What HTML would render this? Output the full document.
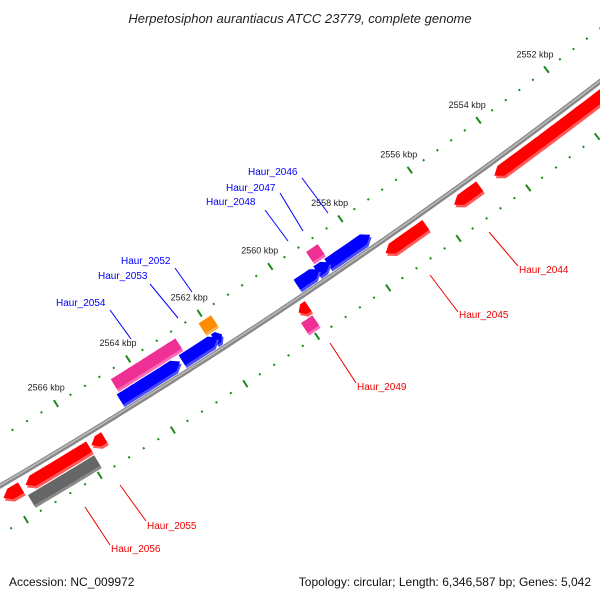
<!DOCTYPE html>
<html><head><meta charset="utf-8"><style>
body{margin:0;background:#fff}
svg{display:block;font-family:"Liberation Sans",sans-serif}
</style></head><body>
<svg id="map" width="600" height="600" viewBox="0 0 600 600">
<rect width="600" height="600" fill="#fff"/>
<text x="300" y="23" text-anchor="middle" font-size="13" font-style="italic" fill="#222">Herpetosiphon aurantiacus ATCC 23779, complete genome</text>
<g id="rings"></g>
<g id="feats"></g>
<g id="labels"></g>
<text x="9" y="586" font-size="12" fill="#111">Accession: NC_009972</text>
<text x="591" y="586" font-size="12" fill="#111" text-anchor="end">Topology: circular; Length: 6,346,587 bp; Genes: 5,042</text>
</svg>
<script>
// data (kbp)
const featStart = [2551.0, 2554.89, 2556.44, 2557.64, 2558.78, 2559.08, 2558.78, 2559.78, 2559.82, 2561.83, 2561.8, 2561.95, 2563.0, 2562.8, 2565.45, 2565.86, 2565.87, 2567.72];
const featEnd   = [2554.47, 2555.63, 2557.59, 2558.85, 2559.16, 2559.72, 2559.11, 2560.05, 2560.14, 2562.05, 2562.15, 2562.95, 2564.67, 2564.6, 2565.8, 2567.6, 2567.67, 2568.2];
const featStrand= [-1,-1,-1, 1,1,1, 1, -1,-1, 1, 1, 1,1, 1, -1,-1,-1,-1];
const featLane  = [1,1,1, 1,1,1, 2, 1,2, 1, 2, 1,1, 2, 1,1,2,1];
const featColor = ["#ff0000","#ff0000","#ff0000","#0000ff","#0000ff","#0000ff","#ee2f93","#ff0000","#ee2f93","#0000ff","#ff8c00","#0000ff","#0000ff","#ee2f93","#ff0000","#ff0000","#666666","#ff0000"];
const featArrow = [1,1,1,1,1,1,0,1,0,1,0,1,1,0,1,1,0,1];
const tickLabels = [2552,2554,2556,2558,2560,2562,2564,2566];
const labelNames = ["Haur_2044","Haur_2045","Haur_2046","Haur_2047","Haur_2048","Haur_2049","Haur_2052","Haur_2053","Haur_2054","Haur_2055","Haur_2056"];

const NS="http://www.w3.org/2000/svg";
const CX=-2992, CY=-4599, RB=5900, TH0=56.1, P0=2559.86, K=0.4147;
function ang(p){return (TH0+(p-P0)*K)*Math.PI/180;}
function pt(p,r){const a=ang(p);return [CX+r*Math.cos(a), CY+r*Math.sin(a)];}
function mk(tag,attrs,parent){const e=document.createElementNS(NS,tag);for(const k in attrs)e.setAttribute(k,attrs[k]);parent.appendChild(e);return e;}
const rings=document.getElementById('rings'), feats=document.getElementById('feats'), labs=document.getElementById('labels');

// backbone
let d="";for(let p=2550;p<=2570;p+=0.25){const q=pt(p,RB);d+=(d?"L":"M")+q[0].toFixed(1)+","+q[1].toFixed(1);}
const bb=mk('path',{d:d,stroke:'#888',"stroke-width":5,fill:'none'},rings);


const bb2=mk('path',{d:d,stroke:'#bbb',"stroke-width":1.5,fill:'none',transform:'translate(0.8,-1.2)'},rings);



// tick rings
[RB-42,RB+42].forEach((r,ri)=>{
  for(let i=0;i<=50;i++){
    const p=2550+i*0.4; const major=Math.abs(p/2-Math.round(p/2))<0.01;
    const a=pt(p,r-(major?4:1)), b=pt(p,r+(major?4:1));
    const t=mk('line',{x1:a[0],y1:a[1],x2:b[0],y2:b[1],stroke:'#1a8a1a',"stroke-width":2},rings);
    
    
  }
});
tickLabels.forEach(v=>{
  const q=pt(v,RB-42-19);
  const t=mk('text',{x:q[0].toFixed(1),y:(q[1]+3).toFixed(1),"font-size":9,fill:'#222',"text-anchor":'middle'},labs);
  t.textContent=v+" kbp";
  
  
});

// features
function lighten(c){return c=="#666666"?"#8a8a8a":c=="#0000ff"?"#4a4aff":c=="#ff0000"?"#ff5a5a":c=="#ff8c00"?"#ffb050":"#ff6ab8";}
for(let i=0;i<featStart.length;i++){
  const s=featStart[i], e=featEnd[i], dir=featStrand[i];
  const rc = dir>0 ? RB-(featLane[i]==1?12:28) : RB+(featLane[i]==1?12:28);
  const h=6, ah=featArrow[i]?Math.min(0.19,(e-s)*0.5):0;
  let pts=[];
  if(dir>0){ // arrow at start
    for(let p=e;p>=s+ah;p-=0.1) pts.push(pt(p,rc-h));
    pts.push(pt(s+ah,rc-h)); if(ah) pts.push(pt(s,rc)); pts.push(pt(s+ah,rc+h));
    for(let p=s+ah;p<=e;p+=0.1) pts.push(pt(p,rc+h));
    pts.push(pt(e,rc+h));
  } else {
    for(let p=s;p<=e-ah;p+=0.1) pts.push(pt(p,rc-h));
    pts.push(pt(e-ah,rc-h)); if(ah) pts.push(pt(e,rc)); pts.push(pt(e-ah,rc+h));
    for(let p=e-ah;p>=s;p-=0.1) pts.push(pt(p,rc+h));
    pts.push(pt(s,rc+h));
  }
  const str=pts.map(q=>q[0].toFixed(1)+","+q[1].toFixed(1)).join(" ");
  const sh=mk('polygon',{points:str,fill:lighten(featColor[i]),transform:'translate(1.5,2.5)'},feats);
  
  
  const f=mk('polygon',{points:str,fill:featColor[i]},feats);
  
  
}

// gene labels (annotation positions)
const L=[["Haur_2044",519,273,"start",489,232,518,266,"#e00"],["Haur_2045",459,318,"start",430,275,458,312,"#e00"],
["Haur_2046",248,175,"start",302,178,328,213,"#00f"],["Haur_2047",226,191,"start",280,193,303,231,"#00f"],
["Haur_2048",206,205,"start",265,210,288,241,"#00f"],["Haur_2049",357,390,"start",330,343,356,383,"#e00"],
["Haur_2052",121,264,"start",175,268,192,292,"#00f"],["Haur_2053",98,279,"start",150,284,178,318,"#00f"],
["Haur_2054",56,306,"start",110,310,131,339,"#00f"],["Haur_2055",147,529,"start",120,485,146,521,"#e00"],
["Haur_2056",111,552,"start",85,507,110,545,"#e00"]];
L.forEach((l,i)=>{
  const ln=mk('line',{x1:l[4],y1:l[5],x2:l[6],y2:l[7],stroke:l[8],"stroke-width":1},labs);
  
  
  const t=mk('text',{x:l[1],y:l[2],"font-size":10,fill:l[8],"text-anchor":l[3]},labs);
  t.textContent=labelNames[i];
  
  
});
</script>
</body></html>
